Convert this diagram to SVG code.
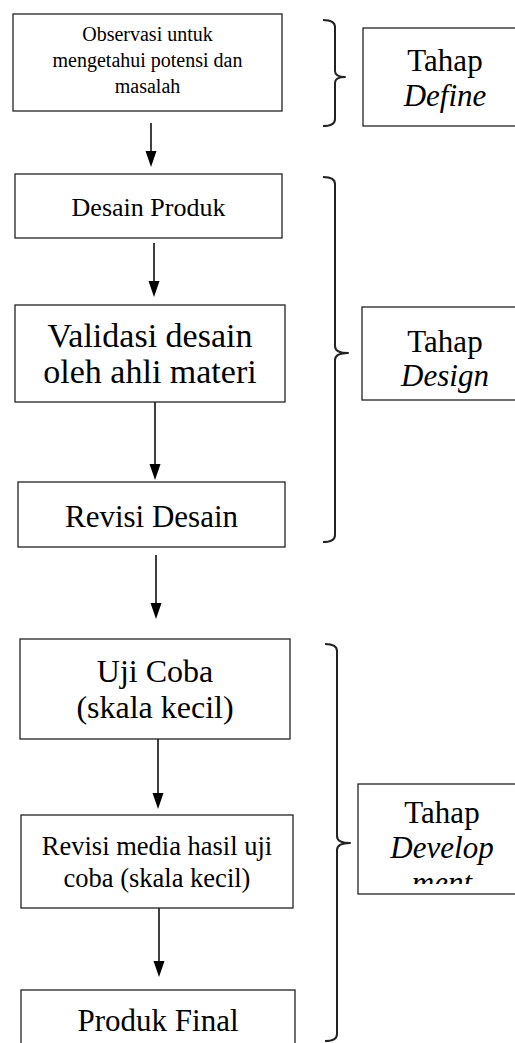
<svg xmlns="http://www.w3.org/2000/svg" width="515" height="1043" viewBox="0 0 515 1043">
<style>
.box{fill:#fff;stroke:#222;stroke-width:1.3}
.t{font-family:"Liberation Serif","Times New Roman",serif;fill:#000;text-anchor:middle}
.i{font-style:italic}
.con{stroke:#000;stroke-width:1.5;fill:none}
.br{stroke:#222;stroke-width:2;fill:none;stroke-linejoin:round}
</style>
<defs>
<clipPath id="devclip"><rect x="358" y="784" width="160" height="100"/></clipPath>
</defs>
<g id="connectors">
<line class="con" x1="151" y1="123" x2="151" y2="152"/>
<polygon points="145.5,151 156.5,151 151,167" fill="#000"/>
<line class="con" x1="154" y1="243" x2="154" y2="282"/>
<polygon points="148.5,281 159.5,281 154,297" fill="#000"/>
<line class="con" x1="155" y1="402" x2="155" y2="465"/>
<polygon points="149.5,464 160.5,464 155,480" fill="#000"/>
<line class="con" x1="156" y1="555" x2="156" y2="604"/>
<polygon points="150.5,603 161.5,603 156,619" fill="#000"/>
<line class="con" x1="158" y1="739" x2="158" y2="794"/>
<polygon points="152.5,793 163.5,793 158,809" fill="#000"/>
<line class="con" x1="159" y1="908" x2="159" y2="962"/>
<polygon points="153.5,961 164.5,961 159,977" fill="#000"/>
</g>
<g id="brackets">
<path class="br" d="M323,20 Q335,20 335,27 L335,71 Q335,77 345,77 Q335,77 335,83 L335,119 Q335,126 323,126"/>
<path class="br" d="M323,177 Q335,177 335,184 L335,346 Q335,353 348,353 Q335,353 335,360 L335,535 Q335,542 323,542"/>
<path class="br" d="M325,644 Q337,644 337,651 L337,836 Q337,843 350,843 Q337,843 337,850 L337,1034 Q337,1041 325,1041"/>
</g>
<g id="n1">
<rect class="box" x="13" y="14" width="269" height="97"/>
<text class="t" font-size="20" x="147.5" y="41">Observasi untuk</text>
<text class="t" font-size="20" x="147.5" y="67">mengetahui potensi dan</text>
<text class="t" font-size="20" x="147.5" y="93">masalah</text>
</g>
<g id="define">
<rect class="box" x="363" y="28" width="170" height="98"/>
<text class="t" font-size="31" x="445" y="71">Tahap</text>
<text class="t i" font-size="31" x="445" y="106">Define</text>
</g>
<g id="n2">
<rect class="box" x="15" y="174" width="267" height="64"/>
<text class="t" font-size="26" x="148.5" y="216">Desain Produk</text>
</g>
<g id="n3">
<rect class="box" x="15" y="305" width="270" height="97"/>
<text class="t" font-size="34" x="150" y="347">Validasi desain</text>
<text class="t" font-size="34" x="150" y="383">oleh ahli materi</text>
</g>
<g id="design">
<rect class="box" x="362" y="307" width="170" height="93"/>
<text class="t" font-size="31" x="445" y="352">Tahap</text>
<text class="t i" font-size="31" x="445" y="386">Design</text>
</g>
<g id="n4">
<rect class="box" x="18" y="482" width="267" height="65"/>
<text class="t" font-size="31" x="151.5" y="527">Revisi Desain</text>
</g>
<g id="n5">
<rect class="box" x="20" y="639" width="270" height="100"/>
<text class="t" font-size="32" x="155" y="682">Uji Coba</text>
<text class="t" font-size="32" x="155" y="718">(skala kecil)</text>
</g>
<g id="n6">
<rect class="box" x="21" y="815" width="272" height="93"/>
<text class="t" font-size="26.5" x="157" y="855">Revisi media hasil uji</text>
<text class="t" font-size="26.5" x="157" y="887">coba (skala kecil)</text>
</g>
<g id="develop">
<rect class="box" x="358" y="784" width="170" height="110"/>
<text class="t" font-size="31" x="442" y="823">Tahap</text>
<text class="t i" font-size="31" x="442" y="858">Develop</text>
<text class="t i" font-size="31" x="442" y="893" clip-path="url(#devclip)">ment</text>
</g>
<g id="n7">
<rect class="box" x="21" y="990" width="274" height="70"/>
<text class="t" font-size="31" x="158" y="1031">Produk Final</text>
</g>
</svg>
